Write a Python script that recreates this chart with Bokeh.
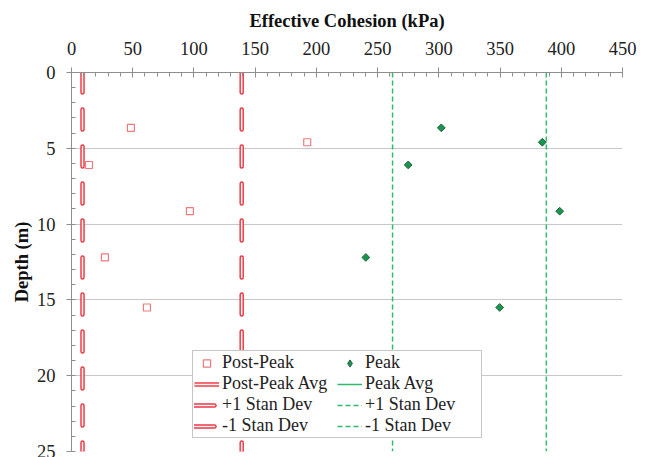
import math
from bokeh.plotting import figure
from bokeh.models import Range1d, Legend, LegendItem, SingleIntervalTicker
from bokeh.embed import file_html
from bokeh.resources import INLINE

# ---- data ----
post_peak_cohesion = [48.5, 192.5, 14.3, 96.7, 27.3, 61.6]
post_peak_depth = [3.65, 4.6, 6.1, 9.15, 12.2, 15.5]
peak_cohesion = [302, 384.5, 275, 398.7, 240.4, 349.7]
peak_depth = [3.65, 4.6, 6.1, 9.15, 12.2, 15.5]
post_peak_plus_sd = 139.0
post_peak_minus_sd = 9.0
peak_plus_sd = 387.8
peak_minus_sd = 262.2
depth_span = [0, 25]
nan = float("nan")
hidden_avg = [nan, nan]   # averages are listed in the legend but not drawn in the reference

SERIF = "'Liberation Serif', 'Times New Roman', serif"
RED = "#ea3a44"
RED_LIGHT = "#f07a7e"
GREEN_DASH = "#2dbb6b"
GREEN_FILL = "#129a4c"

p = figure(width=648, height=457, output_backend="svg", toolbar_location=None,
           x_range=Range1d(0, 450), y_range=Range1d(25, 0),
           x_axis_location="above",
           min_border_left=71, min_border_right=26, min_border_top=72, min_border_bottom=6)
p.outline_line_color = None
p.background_fill_color = "white"
p.border_fill_color = "white"

# axes
xa = p.xaxis[0]
xa.ticker = SingleIntervalTicker(interval=50, num_minor_ticks=5)
xa.axis_label = "Effective Cohesion (kPa)"
ya = p.yaxis[0]
ya.ticker = SingleIntervalTicker(interval=5, num_minor_ticks=5)
ya.axis_label = "Depth (m)"
for ax in (xa, ya):
    ax.axis_line_color = "#8e8e8e"
    ax.major_tick_line_color = "#8e8e8e"
    ax.minor_tick_line_color = "#8e8e8e"
    ax.axis_label_text_font = SERIF
    ax.axis_label_text_font_style = "bold"
    ax.axis_label_text_font_size = "18.5px"
    ax.axis_label_text_color = "#111111"
    ax.major_label_text_font = SERIF
    ax.major_label_text_font_size = "18.5px"
    ax.major_label_text_color = "#222222"
    ax.minor_tick_in = 4
    ax.minor_tick_out = 0
xa.major_tick_in = 5
xa.major_tick_out = 5
xa.major_label_standoff = 13
xa.axis_label_standoff = 8
ya.major_tick_in = 0
ya.major_tick_out = 5
ya.major_label_standoff = 11
ya.axis_label_standoff = 2

p.xgrid.visible = False
p.ygrid.grid_line_color = "#c8c8c8"
p.ygrid.grid_line_width = 1

# red double dashed lines (+/-1 SD of post-peak)
red_items = []
for xv in (post_peak_plus_sd, post_peak_minus_sd):
    r1 = p.line(x=[xv, xv], y=depth_span, line_color=RED, line_width=4.5,
                line_dash="20 17", line_cap="round")
    r2 = p.line(x=[xv, xv], y=depth_span, line_color="#fff2f2", line_width=1.6,
                line_dash="20 17", line_cap="round")
    red_items.append([r1, r2])

# green dashed lines (+/-1 SD of peak)
g_plus = p.line(x=[peak_plus_sd, peak_plus_sd], y=depth_span, line_color=GREEN_DASH,
                line_width=1.5, line_dash="5 3")
g_minus = p.line(x=[peak_minus_sd, peak_minus_sd], y=depth_span, line_color=GREEN_DASH,
                 line_width=1.5, line_dash="5 3")

# averages (legend entries only)
pa1 = p.line(x=hidden_avg, y=depth_span, line_color=RED, line_width=4.5)
pa2 = p.line(x=hidden_avg, y=depth_span, line_color="#fff2f2", line_width=1.6)
ka = p.line(x=hidden_avg, y=depth_span, line_color=GREEN_DASH, line_width=1.5)

# markers
sq = p.scatter(x=post_peak_cohesion, y=post_peak_depth, marker="square", size=7,
               fill_color="white", line_color=RED_LIGHT, line_width=1.2)
dm = p.scatter(x=peak_cohesion, y=peak_depth, marker="square", size=5.5,
               angle=math.pi / 4, fill_color=GREEN_FILL, line_color="#2f5a3f", line_width=1)
dm_leg = p.scatter(x=hidden_avg, y=depth_span, marker="diamond", size=9,
                   fill_color=GREEN_FILL, line_color="#2f5a3f", line_width=1)

items = [
    LegendItem(label="Post-Peak", renderers=[sq]),
    LegendItem(label="Post-Peak Avg", renderers=[pa1, pa2]),
    LegendItem(label="+1 Stan Dev", renderers=red_items[0]),
    LegendItem(label="-1 Stan Dev", renderers=red_items[1]),
    LegendItem(label="Peak", renderers=[dm_leg]),
    LegendItem(label="Peak Avg", renderers=[ka]),
    LegendItem(label="+1 Stan Dev", renderers=[g_plus]),
    LegendItem(label="-1 Stan Dev", renderers=[g_minus]),
]
legend = Legend(items=items, location=(121, 13), ncols=2,
                label_text_font=SERIF, label_text_font_size="18px",
                label_text_color="#222222",
                glyph_width=25, glyph_height=18, label_height=18, label_width=115,
                label_standoff=3, spacing=-1, padding=1, margin=0,
                border_line_color="#8e8e8e", border_line_width=1,
                background_fill_color="white", background_fill_alpha=1)
p.add_layout(legend, "center")

open("out.html", "w").write(file_html(p, INLINE))
